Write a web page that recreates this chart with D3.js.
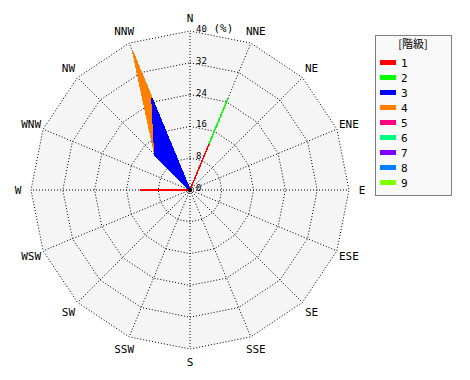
<!DOCTYPE html>
<html>
<head>
<meta charset="utf-8">
<script src="https://cdn.jsdelivr.net/npm/d3@7"></script>
<style>
  body { margin: 0; background: #fff; }
  text { font-family: "DejaVu Sans Mono", monospace; fill: #000; }
</style>
</head>
<body>
<script>
// 16 wind directions, clockwise from north
var directions = ["N", "NNE", "NE", "ENE", "E", "ESE", "SE", "SSE", "S", "SSW", "SW", "WSW", "W", "WNW", "NW", "NNW"];
var classNames = ["1", "2", "3", "4", "5", "6", "7", "8", "9"];
var classColors = ["#ff0000", "#00ff00", "#0000ff", "#ff8000", "#ff0080", "#00ff80", "#8000ff", "#0080ff", "#80ff00"];
var ringTicks = [0, 8, 16, 24, 32, 40];

// frequency (%) per class, one value per direction
var class1 = [0, 12.5, 0, 0, 0, 0, 0, 0, 0, 0, 0, 0, 12.5, 0, 0, 0];
var class2 = [0, 12.5, 0, 0, 0, 0, 0, 0, 0, 0, 0, 0, 0, 0, 0, 0];
var class3 = [0, 0, 0, 0, 0, 0, 0, 0, 0, 0, 0, 0, 0, 0, 12.5, 25];
var class4 = [0, 0, 0, 0, 0, 0, 0, 0, 0, 0, 0, 0, 0, 0, 0, 12.5];
var class5 = [0, 0, 0, 0, 0, 0, 0, 0, 0, 0, 0, 0, 0, 0, 0, 0];
var class6 = [0, 0, 0, 0, 0, 0, 0, 0, 0, 0, 0, 0, 0, 0, 0, 0];
var class7 = [0, 0, 0, 0, 0, 0, 0, 0, 0, 0, 0, 0, 0, 0, 0, 0];
var class8 = [0, 0, 0, 0, 0, 0, 0, 0, 0, 0, 0, 0, 0, 0, 0, 0];
var class9 = [0, 0, 0, 0, 0, 0, 0, 0, 0, 0, 0, 0, 0, 0, 0, 0];
var classData = [class1, class2, class3, class4, class5, class6, class7, class8, class9];

const width = 470, height = 380;
const cx = 190, cy = 190, outerR = 159;

var svg = d3.select("body").append("svg")
  .attr("width", width)
  .attr("height", height);

var angle = d3.scalePoint()
  .domain(directions)
  .range([0, 2 * Math.PI * 15 / 16]);

var r = d3.scaleLinear()
  .domain([0, 40])
  .range([0, outerR]);

var chart = svg.append("g").attr("transform", `translate(${cx}, ${cy})`);

function px(dir, v) { return Math.sin(angle(dir)) * r(v); }
function py(dir, v) { return -Math.cos(angle(dir)) * r(v); }

// background polygon
chart.append("polygon")
  .attr("points", directions.map(d => [px(d, 40), py(d, 40)].join(",")).join(" "))
  .attr("fill", "#f5f5f5");

// grid rings
chart.selectAll(".ring")
  .data(ringTicks.filter(t => t > 0))
  .enter()
  .append("polygon")
  .attr("class", "ring")
  .attr("points", t => directions.map(d => [px(d, t), py(d, t)].join(",")).join(" "))
  .attr("fill", "none")
  .attr("stroke", "#000")
  .attr("stroke-width", 1)
  .attr("stroke-dasharray", "1,2");

// spokes
chart.selectAll(".spoke")
  .data(directions)
  .enter()
  .append("line")
  .attr("class", "spoke")
  .attr("x1", 0).attr("y1", 0)
  .attr("x2", d => px(d, 40))
  .attr("y2", d => py(d, 40))
  .attr("stroke", "#000")
  .attr("stroke-width", 1)
  .attr("stroke-dasharray", "1,2");

// stacked (cumulative) polygons, top class drawn first
var cumulative = [];
classData.forEach(function (vals, i) {
  cumulative.push(vals.map((v, j) => v + (i > 0 ? cumulative[i - 1][j] : 0)));
});

var radial = d3.lineRadial()
  .angle((d, j) => angle(directions[j]))
  .radius(d => r(d))
  .curve(d3.curveLinearClosed);

chart.selectAll(".rose")
  .data(cumulative.map((c, i) => ({ c: c, i: i })).reverse())
  .enter()
  .append("path")
  .attr("class", "rose")
  .attr("d", d => radial(d.c))
  .attr("fill", d => classColors[d.i])
  .attr("stroke", d => classColors[d.i])
  .attr("stroke-width", 1.5)
  .attr("stroke-linejoin", "bevel")
  .attr("shape-rendering", "crispEdges");

// calm dot
chart.append("circle").attr("r", 2.2).attr("fill", "#000");

// ring labels
var ringLabels = chart.selectAll(".ringLabel")
  .data(ringTicks)
  .enter()
  .append("text")
  .attr("class", "ringLabel")
  .attr("x", 6)
  .attr("y", t => -r(t) + 1)
  .attr("font-size", 9)
  .text(t => t);
ringLabels.filter(t => t === 40)
  .append("tspan")
  .attr("font-size", 11)
  .text(" (%)");

// direction labels
chart.selectAll(".dirLabel")
  .data(directions)
  .enter()
  .append("text")
  .attr("class", "dirLabel")
  .attr("x", d => Math.sin(angle(d)) * 172)
  .attr("y", d => -Math.cos(angle(d)) * 172 + 4)
  .attr("text-anchor", "middle")
  .attr("font-size", 11)
  .text(d => d);

// legend
var legend = svg.append("g").attr("transform", "translate(375, 35)");
legend.append("rect")
  .attr("x", 0.5).attr("y", 0.5)
  .attr("width", 76).attr("height", 160)
  .attr("fill", "#f8f8f8")
  .attr("stroke", "#000")
  .attr("stroke-dasharray", "1,1");
legend.append("text")
  .attr("x", 38).attr("y", 13)
  .attr("text-anchor", "middle")
  .attr("font-size", 11)
  .style("font-family", "'Noto Sans CJK JP', sans-serif")
  .text("[階級]");
var items = legend.selectAll(".item")
  .data(classNames)
  .enter()
  .append("g")
  .attr("class", "item")
  .attr("transform", (d, i) => `translate(5, ${25 + i * 15})`);
items.append("rect")
  .attr("width", 16).attr("height", 5)
  .attr("fill", (d, i) => classColors[i]);
items.append("text")
  .attr("x", 21).attr("y", 7)
  .attr("font-size", 11)
  .text(d => d);
</script>
</body>
</html>
